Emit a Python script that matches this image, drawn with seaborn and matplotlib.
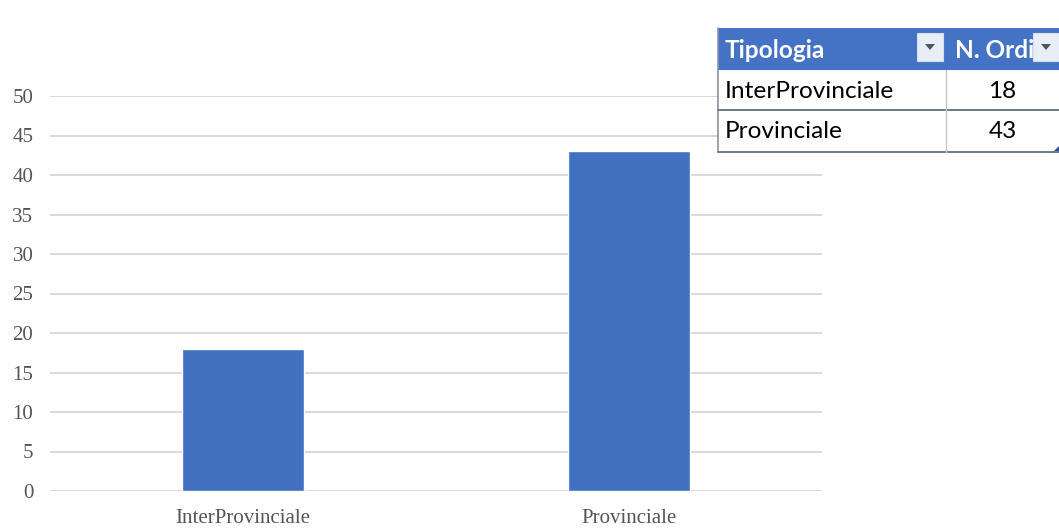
import matplotlib
matplotlib.use("Agg")
import matplotlib.pyplot as plt
import seaborn as sns
from matplotlib.patches import Rectangle, Polygon

# data
tipologia = ["InterProvinciale", "Provinciale"]
n_ordini = [18, 43]
header = ["Tipologia", "N. Ordi"]
y_ticks = [0, 5, 10, 15, 20, 25, 30, 35, 40, 45, 50]

sns.set_style("white")
plt.rcParams["font.family"] = ["Liberation Serif", "DejaVu Serif"]

fig = plt.figure(figsize=(10.59, 5.32), dpi=100)
ax = fig.add_axes([50 / 1059, 41 / 532, 772 / 1059, 395 / 532])

sns.barplot(x=tipologia, y=n_ordini, color="#4170C0", saturation=1,
            width=0.316, ax=ax, zorder=3)

ax.set_ylim(0, 50)
ax.set_yticks(y_ticks)
ax.yaxis.grid(True, color="#d0d0d0", linewidth=1.1, zorder=0)
ax.set_axisbelow(True)
for s in ax.spines.values():
    s.set_visible(False)
ax.tick_params(axis="both", length=0, labelsize=15, labelcolor="#555555")
ax.tick_params(axis="y", pad=12)
ax.tick_params(axis="x", pad=13)
ax.set_xlabel("")
ax.set_ylabel("")

# Excel-style table overlay (pixel coordinates of the figure)
tab = fig.add_axes([0, 0, 1, 1], zorder=10)
tab.set_xlim(0, 1059)
tab.set_ylim(532, 0)
tab.axis("off")

left, right, sep = 718, 1062, 946
rows = [28, 70, 110, 152]
blue = "#4472C4"
tfont = ["Lato", "DejaVu Sans"]
fs = 17.6

tab.add_patch(Rectangle((left, rows[0]), right - left, rows[1] - rows[0],
                        facecolor=blue, edgecolor="none"))
tab.add_patch(Rectangle((left, rows[1]), right - left, rows[3] - rows[1],
                        facecolor="white", edgecolor="none"))
# borders
tab.plot([left, left], [rows[0], rows[3]], color="#8a94a6", lw=1.2)
tab.plot([left, right], [rows[2], rows[2]], color="#6f7a8c", lw=1.4)
tab.plot([left, right], [rows[3], rows[3]], color="#6f7a8c", lw=1.4)
tab.plot([sep, sep], [rows[1], rows[3]], color="#c8c8c8", lw=1.0)

# header text and dropdown buttons
tab.text(725, (rows[0] + rows[1]) / 2 + 1, header[0], color="white",
         fontsize=fs, fontweight="bold", va="center", ha="left", family=tfont)
tab.text(955, (rows[0] + rows[1]) / 2 + 1, header[1], color="white",
         fontsize=fs, fontweight="bold", va="center", ha="left", family=tfont)
for bx in (917, 1033):
    tab.add_patch(Rectangle((bx, 33), 26, 28, facecolor="#e8eef8",
                            edgecolor="#d5dfee", lw=0.8))
    cx = bx + 13
    tab.add_patch(Polygon([[cx - 5, 44], [cx + 5, 44], [cx, 50]],
                          closed=True, facecolor="#555555", edgecolor="none"))

# body rows
for i, (name, val) in enumerate(zip(tipologia, n_ordini)):
    yc = (rows[i + 1] + rows[i + 2]) / 2 + 1
    tab.text(725, yc, name, color="black", fontsize=fs, va="center",
             ha="left", family=tfont)
    tab.text((sep + 1059) / 2, yc, str(val), color="black", fontsize=fs,
             va="center", ha="center", family=tfont)

# small resize handle of the Excel table
tab.add_patch(Polygon([[1059, 146], [1059, 153], [1052, 153]], closed=True,
                      facecolor="#2f5597", edgecolor="none"))

fig.savefig("out.png", dpi=100)
